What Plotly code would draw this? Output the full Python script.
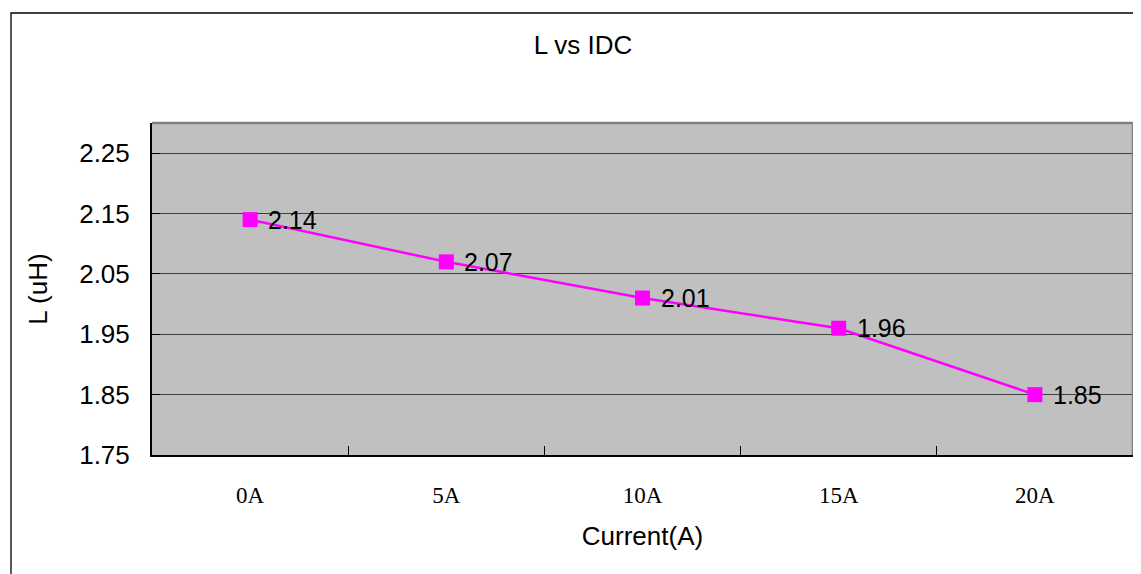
import plotly.graph_objects as go

categories = ["0A", "5A", "10A", "15A", "20A"]
inductance = [2.14, 2.07, 2.01, 1.96, 1.85]
y_ticks = [1.75, 1.85, 1.95, 2.05, 2.15, 2.25]
y_tick_labels = ["1.75", "1.85", "1.95", "2.05", "2.15", "2.25"]

# page body has an 8px margin; work in page coordinates and shift
OFF = 8
PAGE_W, PAGE_H = 1141, 574
W, H = PAGE_W - OFF, PAGE_H - OFF
PL, PR, PT, PB = 152, 1133, 123, 455  # plot area in page pixels
L, T = PL - OFF, PT - OFF
R = W - (PR - OFF)
B = H - (PB - OFF)
pw, ph = PR - PL, PB - PT

def px(x):
    return (x - PL) / pw

def py(y):
    return (PB - y) / ph

FONT = "Liberation Sans, Arial, sans-serif"

fig = go.Figure()
fig.add_trace(go.Scatter(
    x=categories, y=inductance,
    mode="lines+markers",
    line=dict(color="#FF00FF", width=2.5),
    marker=dict(symbol="square", size=15, color="#FF00FF"),
    cliponaxis=False,
    showlegend=False,
))

for c, v in zip(categories, inductance):
    fig.add_annotation(
        x=c, y=v, xref="x", yref="y", text=f"{v:.2f}",
        showarrow=False, xanchor="left", yanchor="middle",
        xshift=16, yshift=0,
        font=dict(family=FONT, size=25, color="black"),
    )

shapes = [
    dict(type="rect", xref="paper", yref="paper",
         x0=px(11), x1=px(1160), y0=py(13), y1=py(600),
         line=dict(color="black", width=1.3), fillcolor="rgba(0,0,0,0)", layer="below"),
    dict(type="line", xref="paper", yref="paper", x0=0, x1=1, y0=1, y1=1,
         line=dict(color="#808080", width=2.5)),
    dict(type="line", xref="paper", yref="paper", x0=1, x1=1, y0=0, y1=1,
         line=dict(color="#808080", width=2.5)),
]

fig.update_layout(
    width=W, height=H,
    margin=dict(l=L, r=R, t=T, b=B, pad=0),
    paper_bgcolor="white",
    plot_bgcolor="#C0C0C0",
    font=dict(family=FONT, color="black"),
    title=dict(text="L vs IDC", x=px(583), xref="paper", xanchor="center",
               y=1 - (45 - OFF) / H, yref="container", yanchor="middle",
               font=dict(size=26, family=FONT)),
    shapes=shapes,
    xaxis=dict(
        type="category", range=[-0.5, 4.5],
        showgrid=False, showline=True, linecolor="black", linewidth=2,
        ticks="inside", ticklen=9, tickcolor="black", tickwidth=1,
        tickson="boundaries",
        tickfont=dict(family="Liberation Serif, serif", size=23),
        ticklabelstandoff=18,
        title=dict(text="Current(A)", font=dict(size=26), standoff=20),
        zeroline=False,
    ),
    yaxis=dict(
        range=[1.75, 2.3], tickvals=y_ticks, ticktext=y_tick_labels,
        showgrid=True, gridcolor="#404040", gridwidth=1,
        showline=True, linecolor="black", linewidth=2,
        ticks="inside", ticklen=8, tickcolor="black",
        tickfont=dict(size=26),
        ticklabelstandoff=15,
        title=dict(text="L (uH)", font=dict(size=26), standoff=24),
        zeroline=False,
    ),
)

fig.write_html("out.html")
